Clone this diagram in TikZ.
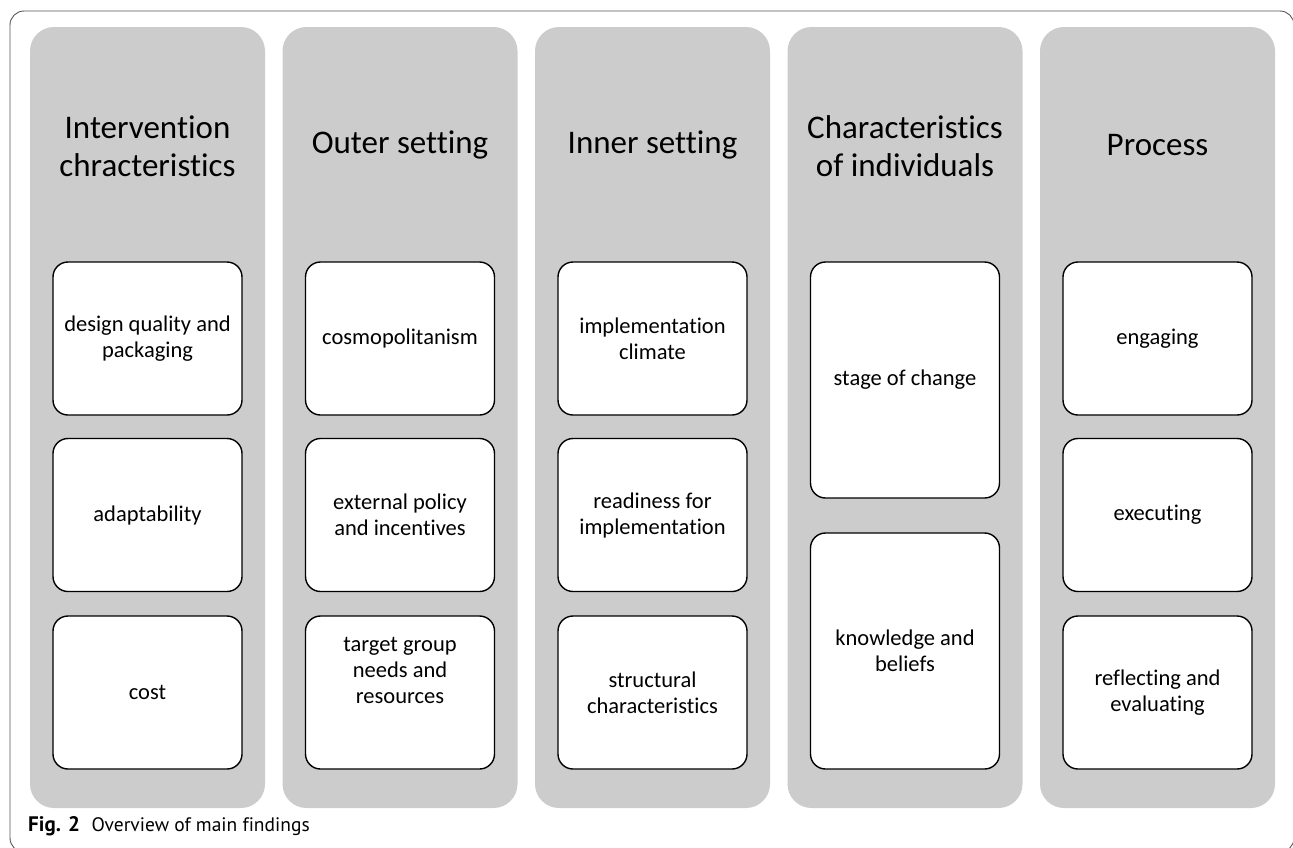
\documentclass[tikz,border=0pt]{standalone}
\usepackage{fontspec}
\setmainfont{Carlito}[Ligatures=NoCommon]
\newfontfamily\capfont{PT Sans}[Ligatures=NoCommon]
\definecolor{colgray}{HTML}{CCCCCC}
\definecolor{framegray}{HTML}{555555}
\begin{document}
\begin{tikzpicture}[x=1pt,y=-1pt,
  column/.style={fill=colgray,rounded corners=24pt},
  header/.style={align=center,font=\fontsize{33}{38}\selectfont,inner sep=0pt},
  boxtext/.style={align=center,inner sep=0pt,font=\fontsize{22.5}{26}\selectfont},
  itembox/.style={boxtext,draw=black,line width=1.4pt,fill=white,rounded corners=15pt,
    minimum width=189pt},
  shortbox/.style={itembox,minimum height=153pt},
  tallbox/.style={itembox,minimum height=236pt}]
\useasboundingbox (0,0) rectangle (1293,847);
\clip (0,0) rectangle (1293,847);
\draw[framegray,line width=0.9pt,rounded corners=14pt] (10,11) rectangle (1294,852);
% columns
\foreach \i/\x in {1/30,2/282.5,3/535,4/787.5,5/1040}{
  \fill[column] (\x,27) rectangle ++(235,781);
}
% headers
\node[header] (h1) at (147.5,146) {Intervention\\chracteristics};
\node[header] (h2) at (400,145) {Outer setting};
\node[header] (h3) at (652.5,145) {Inner setting};
\node[header] (h4) at (905,146) {Characteristics\\of individuals};
\node[header] (h5) at (1157.5,145) {Process};
% column 1
\node[shortbox] (a1) at (147.5,338.5) {design quality and\\packaging};
\node[shortbox] (a2) at (147.5,515) {adaptability};
\node[shortbox] (a3) at (147.5,692.5) {cost};
% column 2
\node[shortbox] (b1) at (400,338.5) {cosmopolitanism};
\node[shortbox] (b2) at (400,515) {external policy\\and incentives};
\node[shortbox] (b3) at (400,692.5) {};
\node[boxtext] (b3t) at (400,670) {target group\\needs and\\resources};
% column 3
\node[shortbox] (c1) at (652.5,338.5) {implementation\\climate};
\node[shortbox] (c2) at (652.5,515) {readiness for\\implementation};
\node[shortbox] (c3) at (652.5,692.5) {structural\\characteristics};
% column 4
\node[tallbox] (d1) at (905,380) {stage of change};
\node[tallbox] (d2) at (905,651) {knowledge and\\beliefs};
% column 5
\node[shortbox] (e1) at (1157.5,338.5) {engaging};
\node[shortbox] (e2) at (1157.5,515) {executing};
\node[shortbox] (e3) at (1157.5,692.5) {reflecting and\\evaluating};
% caption
\node[anchor=base west,inner sep=0pt,font=\capfont\bfseries\fontsize{21}{24}\selectfont] (fig) at (28,831.5)
  {Fig. 2};
\node[anchor=base west,inner sep=0pt,font=\capfont\fontsize{19.5}{22}\selectfont] (cap) at (91.5,831.5)
  {Overview of main findings};
\end{tikzpicture}
\end{document}
